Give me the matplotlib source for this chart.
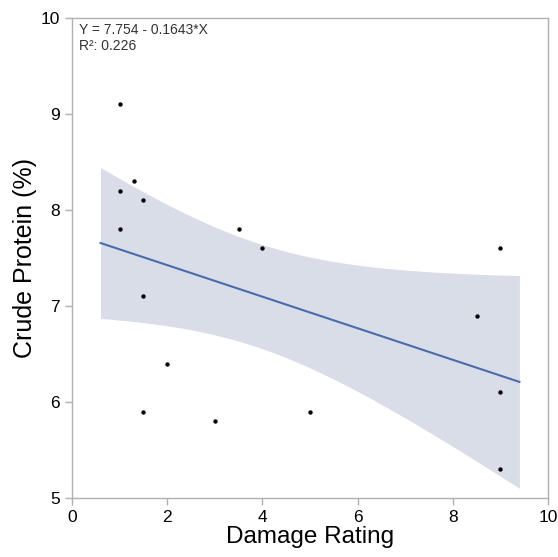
import numpy as np
import matplotlib
matplotlib.use("Agg")
import matplotlib.pyplot as plt

plt.rcParams['font.family'] = ['Liberation Sans', 'DejaVu Sans']

damage = [1, 1, 1, 1.3, 1.5, 1.5, 1.5, 2, 3, 3.5, 4, 5, 8.5, 9, 9, 9]
protein = [9.1, 8.2, 7.8, 8.3, 8.1, 7.1, 5.9, 6.4, 5.8, 7.8, 7.6, 5.9, 6.9, 7.6, 6.1, 5.3]
intercept = 7.754
slope = -0.1643
r2_text = "R²: 0.226"

x = np.array(damage)
y = np.array(protein)
n = len(x)
b, a = np.polyfit(x, y, 1)
resid = y - (a + b * x)
s = np.sqrt(np.sum(resid**2) / (n - 2))
tcrit = 2.1448
xs = np.linspace(0.6, 9.4, 200)
ys = a + b * xs
se = s * np.sqrt(1.0 / n + (xs - x.mean())**2 / np.sum((x - x.mean())**2))

fig = plt.figure(figsize=(5.58, 5.57), dpi=100)
ax = fig.add_axes([0.129, 0.106, 0.853, 0.862])
ax.fill_between(xs, ys - tcrit * se, ys + tcrit * se, color='#d9dde8', lw=0, zorder=1)
ax.plot(xs, ys, color='#4a6cad', lw=1.5, zorder=2)
ax.scatter(x, y, s=10, color='black', zorder=3, lw=0)

ax.set_xlim(0, 10)
ax.set_ylim(5, 10)
ax.set_xticks([0, 2, 4, 6, 8, 10])
ax.set_yticks([5, 6, 7, 8, 9, 10])
for sp in ax.spines.values():
    sp.set_color('#b0b0b0')
    sp.set_linewidth(1)
ax.tick_params(colors='#b0b0b0', labelcolor='black', labelsize=12.5, length=5, width=1)
ax.set_xlabel('Damage Rating', fontsize=17.5, labelpad=1)
ax.set_ylabel('Crude Protein (%)', fontsize=18, labelpad=3)
ax.text(0.015, 0.99, f"Y = {intercept} - {abs(slope)}*X\n{r2_text}", transform=ax.transAxes,
        ha='left', va='top', fontsize=10, color='#333333', linespacing=1.25)

fig.savefig('out.png', dpi=100)
